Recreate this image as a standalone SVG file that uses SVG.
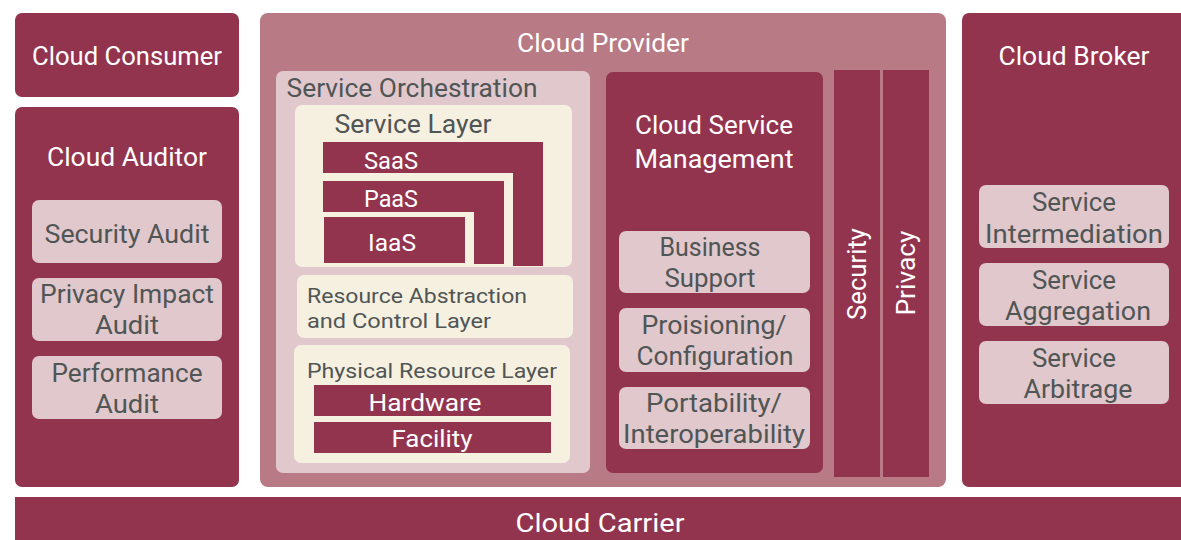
<svg xmlns="http://www.w3.org/2000/svg" width="1181" height="540" viewBox="0 0 1181 540">
<style>
.dark{fill:#93344f}
.prov{fill:#b87a85}
.pink{fill:#e0c8cc}
.cream{fill:#f6f0e0}
text{font-family:Roboto,"Open Sans","DejaVu Sans",sans-serif;text-anchor:middle}
.w{fill:#ffffff}
.g{fill:#505555}
.s26{font-size:26px}
.s24{font-size:24px}
.s22{font-size:21px}
</style>
<rect width="1181" height="540" fill="#ffffff"/>
<g id="cloud-consumer">
<rect class="dark" x="15" y="13" width="224" height="84" rx="7"/>
<text class="w s26" x="127" y="65" textLength="190" lengthAdjust="spacingAndGlyphs">Cloud Consumer</text>
</g>
<g id="cloud-auditor">
<rect class="dark" x="15" y="107" width="224" height="380" rx="7"/>
<text class="w s26" x="127" y="166" textLength="160" lengthAdjust="spacingAndGlyphs">Cloud Auditor</text>
<rect class="pink" x="32" y="200" width="190" height="63" rx="7"/>
<text class="g s26" x="127" y="243" textLength="165" lengthAdjust="spacingAndGlyphs">Security Audit</text>
<rect class="pink" x="32" y="278" width="190" height="63" rx="7"/>
<text class="g s26" x="127" y="303" textLength="174" lengthAdjust="spacingAndGlyphs">Privacy Impact</text>
<text class="g s26" x="127" y="334" textLength="64" lengthAdjust="spacingAndGlyphs">Audit</text>
<rect class="pink" x="32" y="356" width="190" height="63" rx="7"/>
<text class="g s26" x="127" y="382" textLength="151" lengthAdjust="spacingAndGlyphs">Performance</text>
<text class="g s26" x="127" y="413" textLength="64" lengthAdjust="spacingAndGlyphs">Audit</text>
</g>
<g id="cloud-provider">
<rect class="prov" x="260" y="13" width="686" height="474" rx="8"/>
<text class="w s26" x="603" y="52" textLength="172" lengthAdjust="spacingAndGlyphs">Cloud Provider</text>
</g>
<g id="service-orchestration">
<rect class="pink" x="276" y="71" width="314" height="402" rx="7"/>
<text class="g s26" x="412" y="97" textLength="251" lengthAdjust="spacingAndGlyphs">Service Orchestration</text>
</g>
<g id="service-layer">
<rect class="cream" x="295" y="105" width="277" height="162" rx="7"/>
<text class="g s26" x="413" y="133" textLength="157" lengthAdjust="spacingAndGlyphs">Service Layer</text>
</g>
<g id="saas">
<path class="dark" d="M323 142 H543 V266 H513 V173 H323 Z"/>
<text class="w s24" x="391" y="169" textLength="54" lengthAdjust="spacingAndGlyphs">SaaS</text>
</g>
<g id="paas">
<path class="dark" d="M323 181 H504 V264 H474 V212 H323 Z"/>
<text class="w s24" x="391" y="207" textLength="54" lengthAdjust="spacingAndGlyphs">PaaS</text>
</g>
<g id="iaas">
<rect class="dark" x="324" y="217" width="141" height="46"/>
<text class="w s24" x="392" y="251" textLength="48" lengthAdjust="spacingAndGlyphs">IaaS</text>
</g>
<g id="resource-abstraction">
<rect class="cream" x="297" y="275" width="276" height="63" rx="7"/>
<text class="g s22" x="417" y="303" textLength="220" lengthAdjust="spacingAndGlyphs">Resource Abstraction</text>
<text class="g s22" x="399" y="328" textLength="184" lengthAdjust="spacingAndGlyphs">and Control Layer</text>
</g>
<g id="physical-resource-layer">
<rect class="cream" x="294" y="345" width="276" height="118" rx="7"/>
<text class="g s22" x="432" y="378" textLength="250" lengthAdjust="spacingAndGlyphs">Physical Resource Layer</text>
</g>
<g id="hardware">
<rect class="dark" x="314" y="385" width="237" height="31"/>
<text class="w s24" x="425" y="411" textLength="113" lengthAdjust="spacingAndGlyphs">Hardware</text>
</g>
<g id="facility">
<rect class="dark" x="314" y="422" width="237" height="31"/>
<text class="w s24" x="432" y="447" textLength="81" lengthAdjust="spacingAndGlyphs">Facility</text>
</g>
<g id="cloud-service-management">
<rect class="dark" x="606" y="72" width="217" height="401" rx="7"/>
<text class="w s26" x="714" y="134" textLength="158" lengthAdjust="spacingAndGlyphs">Cloud Service</text>
<text class="w s26" x="714" y="168" textLength="159" lengthAdjust="spacingAndGlyphs">Management</text>
<rect class="pink" x="619" y="231" width="191" height="62" rx="7"/>
<text class="g s26" x="710" y="256" textLength="101" lengthAdjust="spacingAndGlyphs">Business</text>
<text class="g s26" x="710" y="287" textLength="91" lengthAdjust="spacingAndGlyphs">Support</text>
<rect class="pink" x="619" y="308" width="191" height="64" rx="7"/>
<text class="g s26" x="714" y="334" textLength="145" lengthAdjust="spacingAndGlyphs">Proisioning/</text>
<text class="g s26" x="715" y="365" textLength="157" lengthAdjust="spacingAndGlyphs">Configuration</text>
<rect class="pink" x="619" y="387" width="191" height="62" rx="7"/>
<text class="g s26" x="714" y="412" textLength="136" lengthAdjust="spacingAndGlyphs">Portability/</text>
<text class="g s26" x="714" y="443" textLength="182" lengthAdjust="spacingAndGlyphs">Interoperability</text>
</g>
<g id="security">
<rect class="dark" x="834" y="70" width="46" height="407"/>
<text class="w s26" transform="translate(866 274) rotate(-90)" x="0" y="0" textLength="92" lengthAdjust="spacingAndGlyphs">Security</text>
</g>
<g id="privacy">
<rect class="dark" x="883" y="70" width="46" height="407"/>
<text class="w s26" transform="translate(915 273) rotate(-90)" x="0" y="0" textLength="85" lengthAdjust="spacingAndGlyphs">Privacy</text>
</g>
<g id="cloud-broker">
<rect class="dark" x="962" y="13" width="240" height="474" rx="7"/>
<text class="w s26" x="1074" y="65" textLength="151" lengthAdjust="spacingAndGlyphs">Cloud Broker</text>
<rect class="pink" x="979" y="185" width="190" height="63" rx="7"/>
<text class="g s26" x="1074" y="211" textLength="84" lengthAdjust="spacingAndGlyphs">Service</text>
<text class="g s26" x="1074" y="243" textLength="178" lengthAdjust="spacingAndGlyphs">Intermediation</text>
<rect class="pink" x="979" y="263" width="190" height="63" rx="7"/>
<text class="g s26" x="1074" y="289" textLength="84" lengthAdjust="spacingAndGlyphs">Service</text>
<text class="g s26" x="1078" y="320" textLength="146" lengthAdjust="spacingAndGlyphs">Aggregation</text>
<rect class="pink" x="979" y="341" width="190" height="63" rx="7"/>
<text class="g s26" x="1074" y="367" textLength="84" lengthAdjust="spacingAndGlyphs">Service</text>
<text class="g s26" x="1078" y="398" textLength="109" lengthAdjust="spacingAndGlyphs">Arbitrage</text>
</g>
<g id="cloud-carrier">
<rect class="dark" x="15" y="497" width="1166" height="43"/>
<text class="w s26" x="600" y="532" textLength="169" lengthAdjust="spacingAndGlyphs">Cloud Carrier</text>
</g>
<g id="connectors"></g>
</svg>
